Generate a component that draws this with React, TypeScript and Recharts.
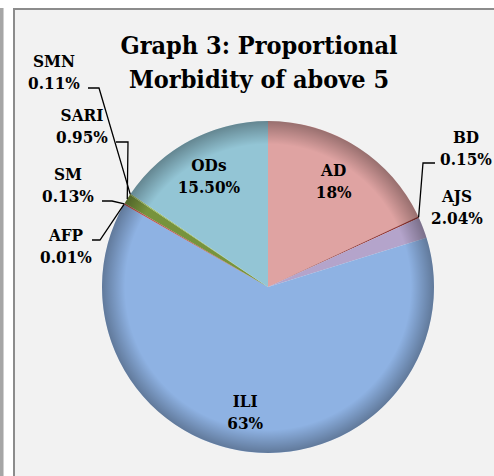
import React from 'react';
import { PieChart, Pie, Cell } from 'recharts';

const categories = ['AD', 'BD', 'AJS', 'ILI', 'AFP', 'SM', 'SARI', 'SMN', 'ODs'];
const values = [18, 0.15, 2.04, 63, 0.01, 0.13, 0.95, 0.11, 15.5];
const valueLabels = ['18%', '0.15%', '2.04%', '63%', '0.01%', '0.13%', '0.95%', '0.11%', '15.50%'];
const colors = ['#dfa3a2', '#953735', '#b4a4cb', '#8eb2e3', '#7f7f7f', '#c0504d', '#77933c', '#9bbb59', '#93c5d5'];
const titleLines = ['Graph 3: Proportional', 'Morbidity of above 5'];

const data = categories.map((name, i) => ({ name, value: values[i], label: valueLabels[i] }));

const FONT = '"DejaVu Serif Condensed", "DejaVu Serif", serif';

// label layout (offsets relative to the pie centre)
type Lay = {
  inside?: boolean;
  dx?: number;
  dy?: number;
  tx?: number;
  ty?: number;
  leader?: [number, number, number];
};
const labelLayout: Record<string, Lay> = {
  AD: { inside: true, dx: -2, dy: 0 },
  ILI: { inside: true, dx: -9, dy: 0 },
  ODs: { inside: true, dx: 0, dy: 0 },
  BD: { tx: 198, ty: -144, leader: [167, 155, -124] },
  AJS: { tx: 189, ty: -85 },
  AFP: { tx: -202, ty: -46, leader: [-176, -168, -47] },
  SM: { tx: -200, ty: -107, leader: [-166, -156, -86] },
  SARI: { tx: -186, ty: -166, leader: [-152, -140, -145] },
  SMN: { tx: -214, ty: -220, leader: [-180, -169, -199] },
};

const RAD = Math.PI / 180;

const renderLabel = (props: any) => {
  const { cx, cy, midAngle, outerRadius, index } = props;
  const name = categories[index];
  const lay = labelLayout[name];
  const textStyle = { fontFamily: FONT, fontWeight: 700, fontSize: 17, fill: '#000' };
  if (lay.inside) {
    const r = outerRadius * 0.76;
    const x = cx + r * Math.cos(-midAngle * RAD) + (lay.dx || 0);
    const y = cy + r * Math.sin(-midAngle * RAD) + (lay.dy || 0);
    return (
      <g key={`l-${index}`}>
        <text x={x} y={y - 5} textAnchor="middle" style={textStyle}>{name}</text>
        <text x={x} y={y + 17} textAnchor="middle" style={textStyle}>{valueLabels[index]}</text>
      </g>
    );
  }
  const tx = cx + (lay.tx || 0);
  const ty = cy + (lay.ty || 0);
  let line = null;
  if (lay.leader) {
    const ex = cx + outerRadius * Math.cos(-midAngle * RAD);
    const ey = cy + outerRadius * Math.sin(-midAngle * RAD);
    const [x1, x2, ly] = lay.leader;
    line = (
      <polyline
        points={`${cx + x1},${cy + ly} ${cx + x2},${cy + ly} ${ex},${ey}`}
        fill="none"
        stroke="#000"
        strokeWidth={1.3}
      />
    );
  }
  return (
    <g key={`l-${index}`}>
      {line}
      <text x={tx} y={ty} textAnchor="middle" style={textStyle}>{name}</text>
      <text x={tx} y={ty + 22} textAnchor="middle" style={textStyle}>{valueLabels[index]}</text>
    </g>
  );
};

export default function App() {
  return (
    <div style={{ position: 'absolute', left: 0, top: 0, width: 494, height: 476, overflow: 'hidden', background: '#fff' }}>
      <div style={{ position: 'absolute', left: 0, top: 8, width: 3, height: 480, background: '#a6a6a6', borderRight: '1px solid #d0d0d0' }} />
      <div
        style={{
          position: 'absolute',
          left: 13,
          top: 8,
          width: 520,
          height: 520,
          background: '#f2f2f2',
          border: '2px solid #8c8c8c',
          boxSizing: 'border-box',
        }}
      />
      <svg width={494} height={476} style={{ position: 'absolute', left: 0, top: 0 }}>
        {titleLines.map((t, i) => (
          <text
            key={t}
            x={259}
            y={54 + i * 34}
            textAnchor="middle"
            style={{ fontFamily: FONT, fontWeight: 700, fontSize: 25, fill: '#000' }}
          >
            {t}
          </text>
        ))}
      </svg>
      <div style={{ position: 'absolute', left: 0, top: 0 }}>
        <PieChart width={494} height={476} margin={{ top: 0, right: 0, bottom: 0, left: 0 }}>
          <defs>
            <radialGradient id="rimShade" cx="50%" cy="50%" r="50%">
              <stop offset="0%" stopColor="#000" stopOpacity={0} />
              <stop offset="86%" stopColor="#000" stopOpacity={0} />
              <stop offset="100%" stopColor="#000" stopOpacity={0.32} />
            </radialGradient>
          </defs>
          <Pie
            data={data}
            dataKey="value"
            nameKey="name"
            cx={268}
            cy={287}
            outerRadius={166}
            startAngle={90}
            endAngle={-270}
            stroke="none"
            label={renderLabel}
            labelLine={false}
            isAnimationActive={false}
          >
            {data.map((d, i) => (
              <Cell key={d.name} fill={colors[i]} />
            ))}
          </Pie>
          <Pie
            data={[{ name: 'rim', value: 1 }]}
            dataKey="value"
            cx={268}
            cy={287}
            outerRadius={166}
            startAngle={90}
            endAngle={-270}
            stroke="none"
            fill="url(#rimShade)"
            isAnimationActive={false}
            label={false}
            labelLine={false}
          />
        </PieChart>
      </div>
    </div>
  );
}
